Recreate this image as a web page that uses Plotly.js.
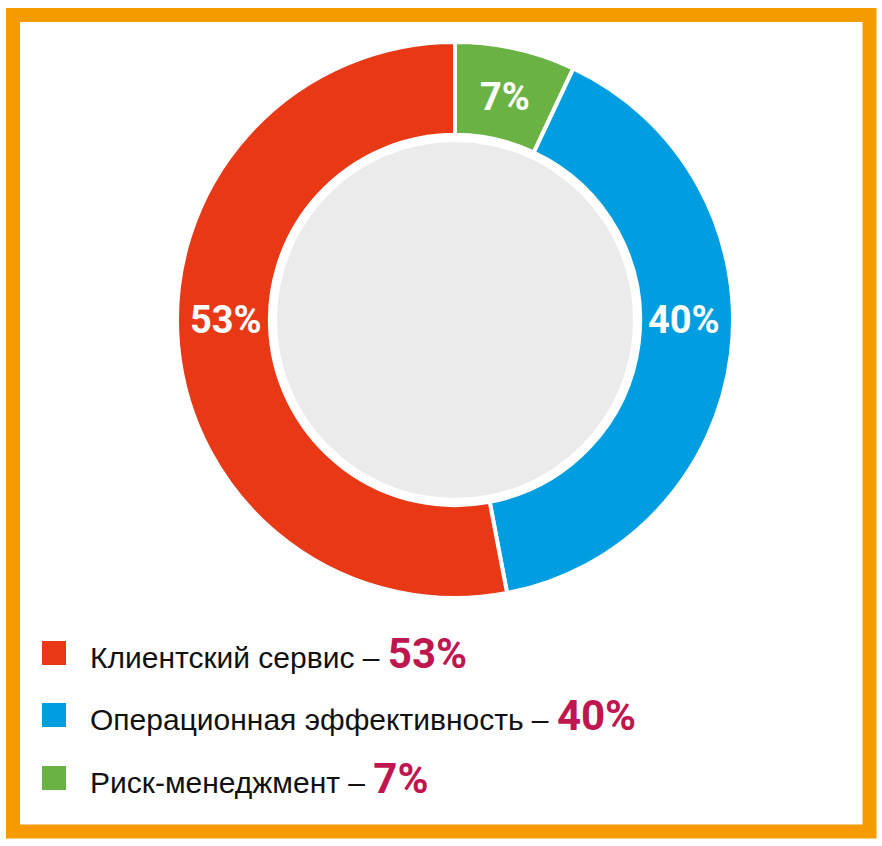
<!DOCTYPE html>
<html>
<head>
<meta charset="utf-8">
<script src="https://cdn.plot.ly/plotly-3.0.1.min.js"></script>
<style>
html,body{margin:0;padding:0;background:#fff;}
#chart{width:882px;height:846px;}
</style>
</head>
<body>
<div id="chart"></div>
<script>
// Data
const labels = ["Риск-менеджмент", "Операционная эффективность", "Клиентский сервис"];
const values = [7, 40, 53];
const colors = ["#6ab244", "#009ee0", "#e83816"];
// legend order (top to bottom)
const legendOrder = [2, 1, 0];

const W = 882, H = 846;
const px = x => x / W;
const py = y => (H - y) / H;

const cx = 455, cy = 320, R = 278, HOLE = 0.666;

const trace = {
  type: "pie",
  labels: labels,
  values: values,
  sort: false,
  direction: "clockwise",
  rotation: 0,
  hole: HOLE,
  marker: {colors: colors, line: {color: "#ffffff", width: 4}},
  textinfo: "none",
  domain: {x: [px(cx - R), px(cx + R)], y: [py(cy + R), py(cy - R)]},
  showlegend: false,
  hoverinfo: "none"
};

const shapes = [
  // orange frame
  {type: "rect", xref: "paper", yref: "paper", x0: px(13), x1: px(869.5), y0: py(831.5), y1: py(15),
   line: {color: "#f59b00", width: 14}, fillcolor: "rgba(0,0,0,0)", layer: "below"},
  // gray center
  {type: "circle", xref: "paper", yref: "paper", x0: px(cx - 178), x1: px(cx + 178), y0: py(cy + 178), y1: py(cy - 178),
   line: {width: 0}, fillcolor: "#ebebeb", layer: "below"}
];
const annotations = [];

// slice labels: placed in the middle of the ring; slices that cross the
// horizontal axis get their label on that axis, others at the mid-angle
const total = values.reduce((a, b) => a + b, 0);
const rMid = R * (1 + HOLE) / 2 - 3;
let acc = 0;
values.forEach((v, i) => {
  const a0 = acc / total * 360, a1 = (acc + v) / total * 360;
  acc += v;
  let ang = (a0 + a1) / 2;
  if (a0 <= 90 && a1 >= 90) ang = 90;
  else if (a0 <= 270 && a1 >= 270) ang = 270;
  const t = ang * Math.PI / 180;
  const x = cx + rMid * Math.sin(t), y = cy - rMid * Math.cos(t);
  annotations.push({
    xref: "paper", yref: "paper", x: px(x), y: py(y), xanchor: "center", yanchor: "middle", showarrow: false,
    text: v + "%",
    font: {family: "Roboto, sans-serif", size: 38, color: "#ffffff", weight: "bold"}
  });
});

const rowY = [653, 715, 778];
legendOrder.forEach((idx, i) => {
  const y = rowY[i];
  shapes.push({type: "rect", xref: "paper", yref: "paper", x0: px(42), x1: px(66), y0: py(y + 12), y1: py(y - 12),
    line: {width: 0}, fillcolor: colors[idx]});
  annotations.push({
    xref: "paper", yref: "paper", x: px(88), y: py(y), xanchor: "left", yanchor: "middle", showarrow: false,
    text: labels[idx] + " – <span style=\"font-family:Roboto;font-weight:bold;font-size:42px;color:#c0164f\">" + values[idx] + "%</span>",
    font: {family: "Liberation Sans, Arial, sans-serif", size: 30, color: "#111111"}
  });
});

const layout = {
  width: W, height: H,
  margin: {l: 0, r: 0, t: 0, b: 0},
  paper_bgcolor: "#ffffff",
  plot_bgcolor: "#ffffff",
  shapes: shapes,
  annotations: annotations,
  showlegend: false
};

Plotly.newPlot("chart", [trace], layout, {displayModeBar: false, staticPlot: true});
</script>
</body>
</html>
